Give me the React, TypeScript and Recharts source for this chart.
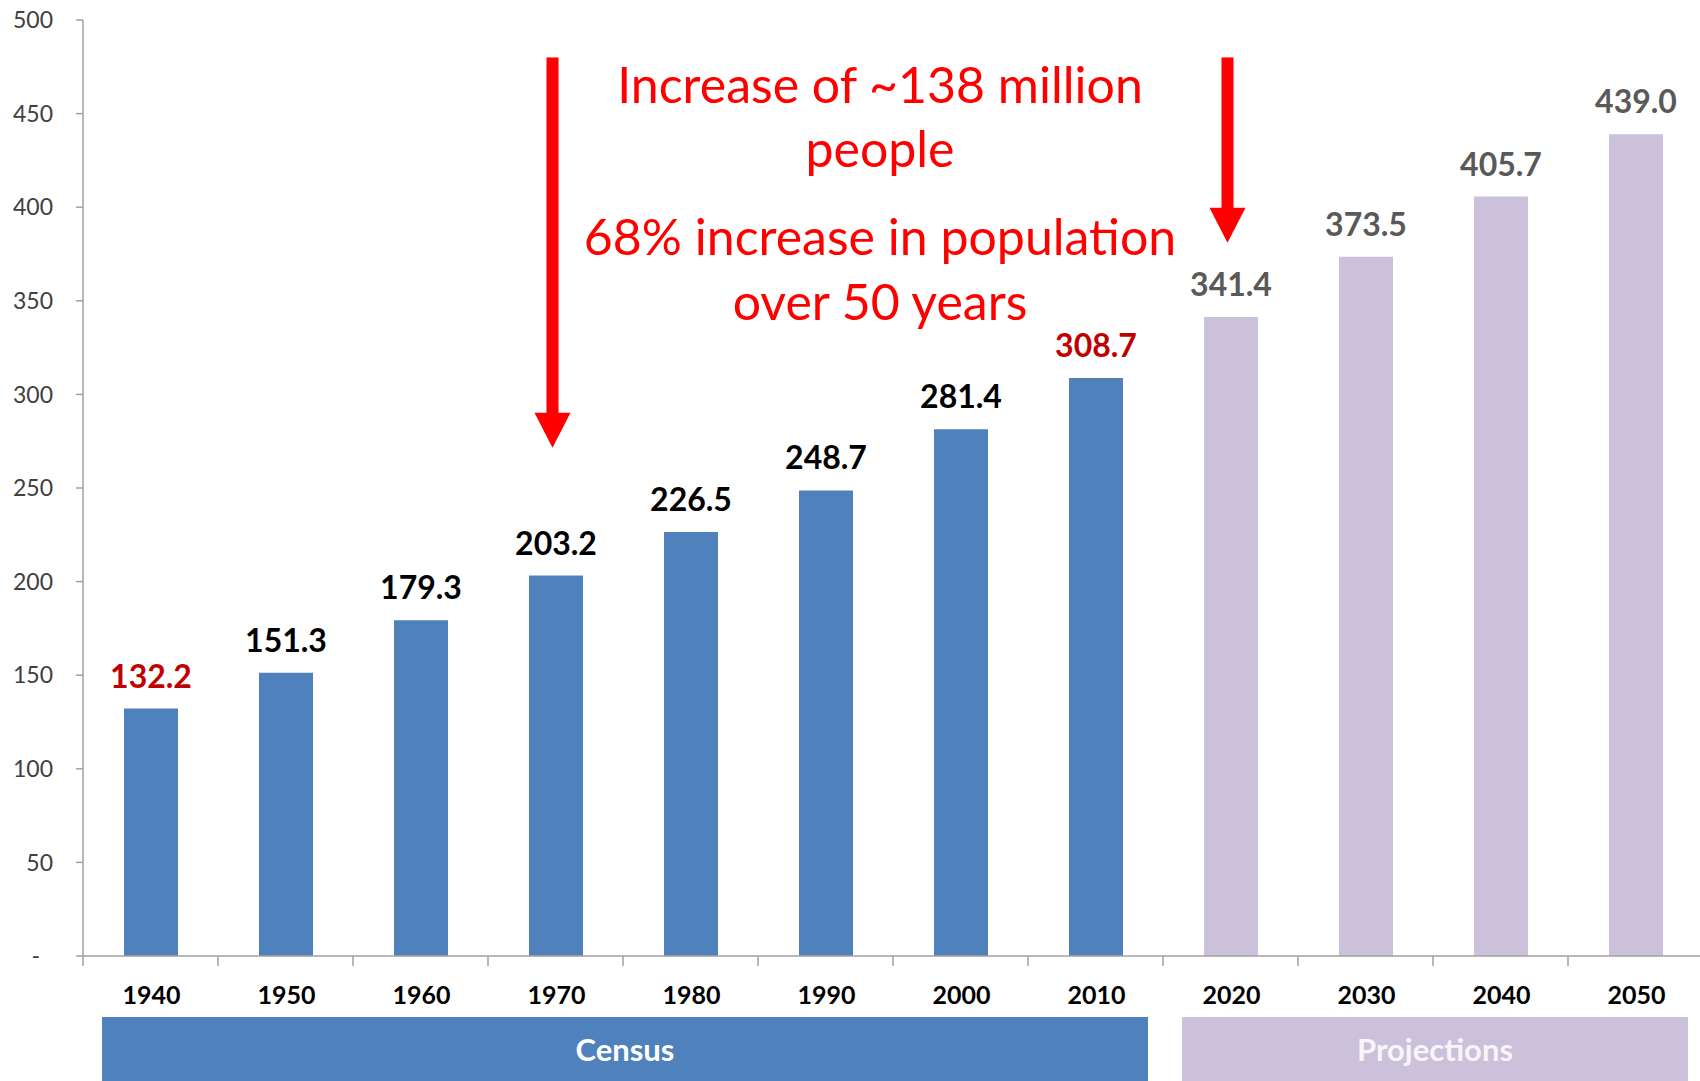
import React from 'react';
import { BarChart, Bar, XAxis, YAxis, Cell, LabelList, ReferenceLine, ReferenceArea } from 'recharts';

const years = ['1940', '1950', '1960', '1970', '1980', '1990', '2000', '2010', '2020', '2030', '2040', '2050'];
const population = [132.2, 151.3, 179.3, 203.2, 226.5, 248.7, 281.4, 308.7, 341.4, 373.5, 405.7, 439.0];
const kinds = ['census', 'census', 'census', 'census', 'census', 'census', 'census', 'census', 'projection', 'projection', 'projection', 'projection'];
const labelColors = ['#C00000', '#000000', '#000000', '#000000', '#000000', '#000000', '#000000', '#C00000', '#595959', '#595959', '#595959', '#595959'];
const yTicks = [0, 50, 100, 150, 200, 250, 300, 350, 400, 450, 500];
const groups = [
  { label: 'Census', from: '1940', to: '2010', kind: 'census' },
  { label: 'Projections', from: '2020', to: '2050', kind: 'projection' },
];
const arrows = [
  { x: '1970', from: 480, to: 271.5 },
  { x: '2020', from: 480, to: 381 },
];
const noteLines = ['Increase of ~138 million', 'people', '68% increase in population', 'over 50 years'];

const fills: Record<string, string> = { census: '#4F81BD', projection: '#CCC1DA' };
const groupText: Record<string, string> = { census: '#FFFFFF', projection: '#F7F5FA' };
const FONT = 'Lato, "Noto Sans", sans-serif';
const AXIS = '#A0A0A0';

const data = years.map((year, i) => ({ year, value: population[i], kind: kinds[i] }));

const YearTick = (props: any) => {
  const { x, y, payload, width, visibleTicksCount } = props;
  const band = width && visibleTicksCount ? width / visibleTicksCount : 0;
  return (
    <g>
      {band ? <line x1={x - band / 2} x2={x - band / 2} y1={y} y2={y + 10} stroke={AXIS} strokeWidth={1.5} /> : null}
      <text x={x + 1} y={y + 48} textAnchor="middle" fontFamily={FONT} fontWeight={700} fontSize={25} fill="#000">
        {payload.value}
      </text>
    </g>
  );
};

const ValueTick = (props: any) => {
  const { x, y, payload } = props;
  const zero = payload.value === 0;
  return (
    <text x={zero ? x - 13 : x} y={y} dy="0.36em" textAnchor="end" fontFamily={FONT} fontSize={23} fill="#404040">
      {zero ? '-' : payload.value}
    </text>
  );
};

const ArrowShape = (props: any) => {
  const { x1, y1, y2 } = props;
  const headH = 35;
  const headW = 36;
  const shaft = 12;
  const cx = x1 - 3;
  return (
    <g>
      <rect x={cx - shaft / 2} y={y1} width={shaft} height={y2 - headH - y1 + 1} fill="#FF0000" />
      <polygon points={`${cx - headW / 2},${y2 - headH} ${cx + headW / 2},${y2 - headH} ${cx},${y2}`} fill="#FF0000" />
    </g>
  );
};

const makeGroupShape = (label: string, kind: string) => (props: any) => {
  const { x, y, width, height } = props;
  const insetL = 19;
  const insetR = 15;
  return (
    <g>
      <rect x={x + insetL} y={y} width={width - insetL - insetR} height={height} fill={fills[kind]} />
      <text x={x + insetL + (width - insetL - insetR) / 2} y={y + 44} textAnchor="middle" fontFamily={FONT} fontWeight={700} fontSize={31} fill={groupText[kind]}>
        {label}
      </text>
    </g>
  );
};

const renderValueLabel = (props: any) => {
  const { x, y, width, value, index } = props;
  return (
    <text x={x + width / 2} y={y - 21} textAnchor="middle" fontFamily={FONT} fontWeight={700} fontSize={32} fill={labelColors[index]}>
      {Number(value).toFixed(1)}
    </text>
  );
};

export default function App() {
  const noteBaselines = [103, 167, 255, 320];
  return (
    <div style={{ position: 'absolute', left: 0, top: 0, width: 1700, height: 1081, overflow: 'hidden', background: '#fff' }}>
      <BarChart width={1720} height={1081} data={data} margin={{ top: 20, right: 17, left: 0, bottom: 0 }}>
        <XAxis
          dataKey="year"
          height={125}
          interval={0}
          tickSize={0}
          tickMargin={0}
          tickLine={false}
          axisLine={{ stroke: AXIS, strokeWidth: 1.5 }}
          tick={<YearTick />}
        />
        <YAxis
          width={83}
          domain={[0, 500]}
          ticks={yTicks}
          interval={0}
          tickSize={7}
          tickMargin={23}
          axisLine={{ stroke: AXIS, strokeWidth: 1.5 }}
          tickLine={{ stroke: AXIS, strokeWidth: 1.5 }}
          tick={<ValueTick />}
        />
        <Bar dataKey="value" barSize={54} isAnimationActive={false}>
          {data.map((d, i) => (
            <Cell key={i} fill={fills[d.kind]} />
          ))}
          <LabelList dataKey="value" content={renderValueLabel} />
        </Bar>
        {groups.map((g) => (
          <ReferenceArea
            key={g.label}
            x1={g.from}
            x2={g.to}
            y1={-32.6}
            y2={-72}
            ifOverflow="visible"
            shape={makeGroupShape(g.label, g.kind)}
          />
        ))}
        {arrows.map((a) => (
          <ReferenceLine
            key={a.x}
            segment={[{ x: a.x, y: a.from }, { x: a.x, y: a.to }]}
            ifOverflow="visible"
            shape={ArrowShape}
          />
        ))}
      </BarChart>
      <svg width={1700} height={400} style={{ position: 'absolute', left: 0, top: 0, pointerEvents: 'none' }}>
        {noteLines.map((t, i) => (
          <text key={i} x={880} y={noteBaselines[i]} textAnchor="middle" fontFamily={FONT} fontSize={50} fill="#FF0000">
            {t}
          </text>
        ))}
      </svg>
    </div>
  );
}
